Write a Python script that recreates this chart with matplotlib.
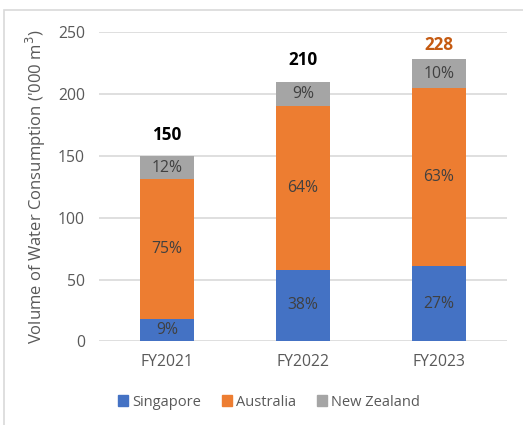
import matplotlib
matplotlib.use("Agg")
import matplotlib.pyplot as plt
from matplotlib.patches import Rectangle, Patch
import numpy as np

years = ["FY2021", "FY2022", "FY2023"]
singapore = [18, 58, 61]
australia = [113, 132, 144]
new_zealand = [19, 20, 23]
totals = [150, 210, 228]
sg_pct = ["9%", "38%", "27%"]
au_pct = ["75%", "64%", "63%"]
nz_pct = ["12%", "9%", "10%"]
y_ticks = [0, 50, 100, 150, 200, 250]

plt.rcParams['font.family'] = ['Open Sans', 'DejaVu Sans']

BLUE = "#4472C4"
ORANGE = "#ED7D31"
GREY = "#A5A5A5"
TICK = "#595959"
LABEL = "#404040"
GRID = "#D9D9D9"

fig = plt.figure(figsize=(5.23, 4.25), dpi=100)
ax = fig.add_axes([99 / 523, 1 - 341.3 / 425, 408 / 523, 309 / 425])

# outer chart frame
fig.patches.append(Rectangle((3.5 / 523, -0.1), 1.2, 1.1 - 10.5 / 425,
                             transform=fig.transFigure, fill=False,
                             edgecolor=GRID, linewidth=1.2, zorder=0))

x = np.arange(len(years))
w = 0.4
sg = np.array(singapore)
au = np.array(australia)
nz = np.array(new_zealand)

ax.bar(x, sg, w, color=BLUE, zorder=3, label="Singapore")
ax.bar(x, au, w, bottom=sg, color=ORANGE, zorder=3, label="Australia")
ax.bar(x, nz, w, bottom=sg + au, color=GREY, zorder=3, label="New Zealand")

fs = 11.3
for i in range(len(years)):
    ax.text(x[i], sg[i] / 2, sg_pct[i], ha="center", va="center",
            color=LABEL, fontsize=fs, zorder=4)
    ax.text(x[i], sg[i] + au[i] / 2, au_pct[i], ha="center", va="center",
            color=LABEL, fontsize=fs, zorder=4)
    ax.text(x[i], sg[i] + au[i] + nz[i] / 2, nz_pct[i], ha="center",
            va="center", color=LABEL, fontsize=fs, zorder=4)

total_colors = ["black", "black", "#C55A11"]
total_offsets = [15, 16, 10.5]
for i in range(len(years)):
    ax.annotate(str(totals[i]), (x[i], totals[i]), xytext=(0, total_offsets[i]),
                textcoords="offset points", ha="center", va="center",
                fontsize=12.3, fontweight="bold", color=total_colors[i])

ax.set_xlim(-0.5, 2.5)
ax.set_ylim(0, 250)
ax.set_yticks(y_ticks)
ax.set_xticks(x)
ax.set_xticklabels(years)
ax.tick_params(axis="both", length=0, colors=TICK, labelsize=fs)
ax.tick_params(axis="x", pad=9)
ax.tick_params(axis="y", pad=10)
ax.yaxis.grid(True, color=GRID, linewidth=1.2, zorder=0)
ax.set_axisbelow(True)
for s in ax.spines.values():
    s.set_visible(False)

ax.set_ylabel("Volume of Water Consumption ('000 m$^3$)", fontsize=12,
              color=TICK, labelpad=7)

handles = [Patch(color=BLUE), Patch(color=ORANGE), Patch(color=GREY)]
fig.legend(handles, ["Singapore", "Australia", "New Zealand"],
           loc="center", bbox_to_anchor=(269 / 523, 1 - 402 / 425), ncol=3,
           frameon=False, fontsize=10.5, labelcolor=TICK, handlelength=0.7,
           handleheight=0.7, handletextpad=0.3, columnspacing=1.4)

fig.savefig("out.png", dpi=100)
